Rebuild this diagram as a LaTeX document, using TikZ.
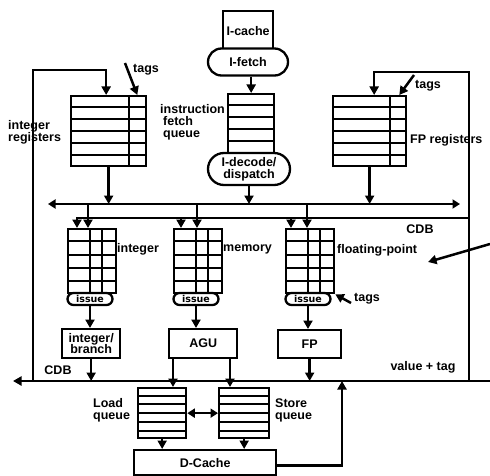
\documentclass[tikz,border=0pt]{standalone}
\usepackage{fontspec}
\setmainfont{Liberation Sans}
\newfontfamily\issuefont{DejaVu Sans}
\usetikzlibrary{calc,arrows.meta,shapes.misc}
\begin{document}
\begin{tikzpicture}[x=1pt,y=-1pt,
  every node/.style={font=\bfseries\fontsize{12.5}{12}\selectfont},
  ln/.style={line width=2.5pt},
  arr/.style={line width=2.5pt,-{Triangle[length=8.5pt,width=9pt]}},
  darr/.style={line width=2.5pt,{Triangle[length=7.5pt,width=9pt]}-{Triangle[length=7.5pt,width=9pt]}},
  box/.style={draw,line width=2.3pt,fill=white,inner sep=0pt,anchor=north west,align=center},
  pill/.style={draw,line width=2.3pt,fill=white,rounded rectangle,inner sep=0pt,align=center},
  issuepill/.style={pill,minimum width=45pt,minimum height=12pt,font=\issuefont\bfseries\fontsize{9.5}{9}\selectfont},
  gridln/.style={line width=2pt},
  lbl/.style={inner sep=0pt,align=left}
]
\useasboundingbox (0,0) rectangle (490,476);

% ---------- fetch ----------
\node[box,minimum width=50pt,minimum height=40pt] (icache) at (222,10) {I-cache};
\node[pill,minimum width=80pt,minimum height=27pt] (ifetch) at (248,62) {I-fetch};
\node[box,minimum width=46pt,minimum height=70pt] (ifq) at (227,93) {};
\foreach \k in {1,...,5}
  \draw[gridln] ($(ifq.north west)!\k/6!(ifq.south west)$) -- ($(ifq.north east)!\k/6!(ifq.south east)$);
\node[pill,minimum width=82pt,minimum height=32pt] (decode) at (249,169) {I-decode/\\dispatch};
\draw[arr] (ifq.north |- ifetch.south) -- (ifq.north);

% ---------- register files ----------
\node[box,minimum width=75pt,minimum height=70pt] (intreg) at (70,95) {};
\foreach \k in {1,...,5}
  \draw[gridln] ($(intreg.north west)!\k/6!(intreg.south west)$) -- ($(intreg.north east)!\k/6!(intreg.south east)$);
\draw[gridln] ($(intreg.north west)+(59,0)$) -- ($(intreg.south west)+(59,0)$);

\node[box,minimum width=73pt,minimum height=70pt] (fpreg) at (332,95) {};
\foreach \k in {1,...,5}
  \draw[gridln] ($(fpreg.north west)!\k/6!(fpreg.south west)$) -- ($(fpreg.north east)!\k/6!(fpreg.south east)$);
\draw[gridln] ($(fpreg.north west)+(58,0)$) -- ($(fpreg.south west)+(58,0)$);

% ---------- reservation stations ----------
\foreach \nm/\xx in {intrs/67,memrs/173,fprs/285}{
  \node[box,minimum width=48pt,minimum height=64pt] (\nm) at (\xx,228) {};
  \foreach \k in {1,...,4}
    \draw[gridln] ($(\nm.north west)!\k/5!(\nm.south west)$) -- ($(\nm.north east)!\k/5!(\nm.south east)$);
  \draw[gridln] ($(\nm.north west)+(23,0)$) -- ($(\nm.south west)+(23,0)$);
  \draw[gridln] ($(\nm.north west)+(35,0)$) -- ($(\nm.south west)+(35,0)$);
}
\node[issuepill] (intiss) at (90,299) {issue};
\node[issuepill] (memiss) at (196,299) {issue};
\node[issuepill] (fpiss) at (308,299) {issue};

% ---------- functional units ----------
\node[box,minimum width=58pt,minimum height=29pt] (intu) at (61,328) {integer/\\[-1pt]branch};
\node[box,minimum width=68pt,minimum height=29pt] (agu) at (168,328) {AGU};
\node[box,minimum width=63pt,minimum height=28pt] (fpu) at (277,329) {FP};

% ---------- memory ----------
\node[box,minimum width=48pt,minimum height=50pt] (ldq) at (137,387) {};
\node[box,minimum width=50pt,minimum height=50pt] (stq) at (218,387) {};
\foreach \nm in {ldq,stq}
  \foreach \k in {1,...,5}
    \draw[gridln] ($(\nm.north west)!\k/6!(\nm.south west)$) -- ($(\nm.north east)!\k/6!(\nm.south east)$);
\node[box,minimum width=142pt,minimum height=25pt] (dc) at (133,449) {D-Cache};

% ---------- buses ----------
\coordinate (busL) at (48,204);
\coordinate (busR) at (460,204);
\coordinate (cdbR) at (469,218);
\coordinate (rtop) at (469,72);
\coordinate (rbot) at (469,381);
\coordinate (ltop) at (33,70);
\coordinate (lbot) at (33,381);
\coordinate (loL) at (13,381);
\coordinate (loR) at (490,381);
\coordinate (dcup) at (342,381);
\coordinate (ext) at (490,244);
\coordinate (extp) at (428,262);

\draw[darr] (busL) -- (busR);
\draw[arr] (decode.south) -- (decode.south |- busL);
\draw[arr] (intreg.south) -- (intreg.south |- busL);
\draw[arr] (fpreg.south) -- (fpreg.south |- busL);

\coordinate (itapc) at ($(intrs.north west)+(10,0)$);
\coordinate (itapb) at ($(intrs.north west)+(21,0)$);
\coordinate (mtapc) at ($(memrs.north west)+(8,0)$);
\coordinate (mtapb) at ($(memrs.north west)+(24,0)$);
\coordinate (ftapc) at ($(fprs.north west)+(6,0)$);
\coordinate (ftapb) at ($(fprs.north west)+(22,0)$);

\draw[arr] (cdbR) -| (itapc);
\draw[arr] (mtapc |- cdbR) -- (mtapc);
\draw[arr] (ftapc |- cdbR) -- (ftapc);
\draw[arr] (itapb |- busL) -- (itapb);
\draw[arr] (mtapb |- busL) -- (mtapb);
\draw[arr] (ftapb |- busL) -- (ftapb);

\draw[arr] (rbot) -- (rtop) -| ($(fpreg.north)+(4.5,0)$);
\draw[arr] (lbot) -- (ltop) -| ($(intreg.north)+(-2.5,0)$);
\draw[arr] (loR) -- (loL);

\draw[arr] (intiss.south) -- (intiss.south |- intu.north);
\draw[arr] (memiss.south) -- (memiss.south |- agu.north);
\draw[arr] (fpiss.south) -- (fpiss.south |- fpu.north);
\draw[arr] (intu.south) -- (intu.south |- loL);
\draw[arr] (fpu.south) -- (fpu.south |- loL);

\coordinate (ag1) at ($(agu.south west)+(5,0)$);
\coordinate (ag2) at ($(agu.south west)+(62,0)$);
\draw[arr] (ag1) -- (ag1 |- ldq.north);
\draw[arr] (ag2) -- (ag2 |- stq.north);
\draw[darr] (ldq.east) -- (stq.west);
\draw[arr] (ldq.south) -- (ldq.south |- dc.north);
\draw[arr] (stq.south) -- (stq.south |- dc.north);
\draw[arr] ($(dc.east)+(0,3)$) -| (dcup);
\draw[arr] (ext) -- (extp);

% ---------- labels ----------
\node[lbl,anchor=west] (tag1) at (133,70) {tags};
\coordinate (t1s) at (125,63);
\draw[arr] (t1s) -- ($(intreg.north east)+(-10,0)$);
\node[lbl,anchor=west] (tag2) at (415,86) {tags};
\coordinate (t2s) at (414,75);
\draw[arr] (t2s) -- ($(fpreg.north east)+(-8,0)$);
\node[lbl,anchor=west] (tag3) at (354,299) {tags};
\draw[arr] ($(tag3.west)+(-3,4)$) -- (fprs.south east);

\node[lbl,anchor=west] (lintreg) at (8,132) {integer\\registers};
\node[lbl,anchor=west] (lifq) at (160,122) {instruction\\\hspace{3pt}fetch\\\hspace{3pt}queue};
\node[lbl,anchor=west] (lfpreg) at (410,140) {FP registers};
\node[lbl,anchor=west] (lint) at (117,249) {integer};
\node[lbl,anchor=west] (lmem) at (223,249) {memory};
\node[lbl,anchor=west] (lfp) at (337,250) {floating-point};
\node[lbl] (lcdb1) at (420,229) {CDB};
\node[lbl] (lcdb2) at (58,370) {CDB};
\node[lbl] (lval) at (423,367) {value + tag};
\node[lbl,anchor=west] (lldq) at (93,410) {Load\\queue};
\node[lbl,anchor=west] (lstq) at (275,410) {Store\\queue};
\end{tikzpicture}
\end{document}
